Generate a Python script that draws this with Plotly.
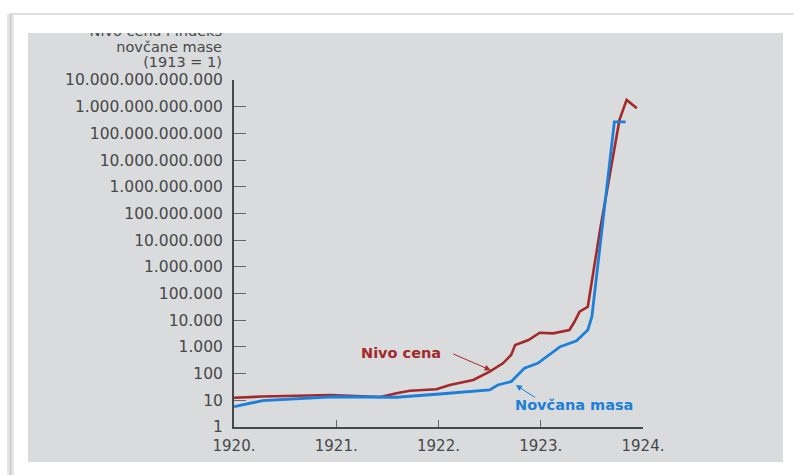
import plotly.graph_objects as go

# Germany 1920-1924: price level and money supply index (1913 = 1)
price_years = [1920.00, 1920.28, 1920.94, 1921.28, 1921.43, 1921.59, 1921.72, 1921.98,
               1922.11, 1922.34, 1922.50, 1922.63, 1922.71, 1922.75, 1922.88, 1922.99,
               1923.12, 1923.28, 1923.33, 1923.38, 1923.46, 1923.58, 1923.77, 1923.84,
               1923.94]
price_level = [12.5, 13.8, 15.8, 14.5, 13.3, 18.3, 22.9, 25.8,
               37.5, 57.6, 118, 243, 497, 1180, 1810, 3400,
               3220, 4290, 8750, 20800, 32000, 2.4e7, 3.2e11, 1.8e12,
               8.7e11]

money_years = [1920.00, 1920.28, 1920.97, 1921.43, 1921.59, 1922.01, 1922.50, 1922.58,
               1922.71, 1922.84, 1922.97, 1923.19, 1923.35, 1923.46, 1923.50, 1923.72,
               1923.83]
money_supply = [5.8, 9.7, 13.6, 13.6, 13.0, 17.2, 24.4, 37.5,
                50, 158, 243, 1020, 1700, 4300, 13500, 2.7e11,
                2.7e11]

year_ticks = [1920, 1921, 1922, 1923, 1924]
year_labels = ["1920.", "1921.", "1922.", "1923.", "1924."]

value_ticks = [10 ** k for k in range(14)]
value_labels = ["1", "10", "100", "1.000", "10.000", "100.000", "1.000.000",
                "10.000.000", "100.000.000", "1.000.000.000", "10.000.000.000",
                "100.000.000.000", "1.000.000.000.000", "10.000.000.000.000"]

axis_title_lines = ["Nivo cena i indeks", "novčane mase", "(1913 = 1)"]

W, H = 794, 475
RED = "#a3292b"
BLUE = "#1c7fd9"
INK = "#474849"
PANEL = "#d9dbdc"
FONT = "DejaVu Sans"


def fx(p):
    return p / W


def fy(p):
    return 1 - p / H


fig = go.Figure()

fig.add_trace(go.Scatter(
    x=price_years, y=price_level, mode="lines",
    line=dict(color=RED, width=2.6), name="Nivo cena", showlegend=False,
))
fig.add_trace(go.Scatter(
    x=money_years, y=money_supply, mode="lines",
    line=dict(color=BLUE, width=2.8), name="Novčana masa", showlegend=False,
))

# axis caption on a full-panel overlay so the top line is cut at the panel edge
fig.add_trace(go.Scatter(
    x=[222, 222, 222], y=[32, 48, 63],
    text=axis_title_lines, mode="text", textposition="middle left",
    textfont=dict(family=FONT, size=14.5, color=INK),
    xaxis="x2", yaxis="y2", cliponaxis=True, showlegend=False, hoverinfo="skip",
))

fig.update_layout(
    template="none",
    width=W, height=H,
    margin=dict(l=0, r=0, t=0, b=0, pad=0, autoexpand=False),
    paper_bgcolor="white",
    plot_bgcolor="rgba(0,0,0,0)",
    font=dict(family=FONT, color=INK),
    showlegend=False,
    xaxis=dict(
        domain=[fx(234), fx(643)], range=[1920, 1924],
        tickvals=year_ticks, ticktext=year_labels,
        ticks="inside", ticklen=7, tickwidth=1.3, tickcolor="#666",
        showline=True, linecolor=INK, linewidth=2,
        showgrid=False, zeroline=False, automargin=False,
        tickfont=dict(family=FONT, size=15, color=INK),
        ticklabelstandoff=4,
    ),
    yaxis=dict(
        domain=[fy(427), fy(80)], type="log", range=[0, 13],
        tickvals=value_ticks, ticktext=value_labels,
        ticks="inside", ticklen=12, tickwidth=1.3, tickcolor="#666",
        showline=True, linecolor=INK, linewidth=2,
        showgrid=False, zeroline=False, automargin=False,
        tickfont=dict(family=FONT, size=15.5, color=INK),
        ticklabelstandoff=6,
    ),
    xaxis2=dict(domain=[fx(28), fx(783)], range=[28, 783], visible=False,
                anchor="y2", automargin=False),
    yaxis2=dict(domain=[fy(462), fy(33)], range=[462, 33], visible=False,
                anchor="x2", automargin=False),
    shapes=[
        # scanned panel
        dict(type="rect", xref="paper", yref="paper", layer="below",
             x0=fx(28), x1=fx(783), y0=fy(462), y1=fy(33),
             fillcolor=PANEL, line=dict(width=0)),
        # page edge with soft shadow
        dict(type="rect", xref="paper", yref="paper", layer="below",
             x0=fx(7), x1=fx(14), y0=fy(H), y1=fy(14),
             fillcolor="#e6e6e6", line=dict(width=0)),
        dict(type="line", xref="paper", yref="paper", layer="below",
             x0=fx(10.5), x1=fx(10.5), y0=fy(H), y1=fy(14),
             line=dict(color="#cfcfcf", width=2)),
        dict(type="line", xref="paper", yref="paper", layer="below",
             x0=fx(9), x1=fx(W), y0=fy(14), y1=fy(14),
             line=dict(color="#d6d6d6", width=1.5)),
    ],
    annotations=[
        dict(text="<b>Nivo cena</b>", x=1922.04, y=2.77, xref="x", yref="y",
             xanchor="right", yanchor="middle", showarrow=False,
             font=dict(family=FONT, size=14.5, color=RED)),
        dict(text="<b>Novčana masa</b>", x=1922.73, y=0.82, xref="x", yref="y",
             xanchor="left", yanchor="middle", showarrow=False,
             font=dict(family=FONT, size=14.5, color=BLUE)),
        dict(text="", x=1922.51, y=2.13, ax=1922.13, ay=2.76,
             xref="x", yref="y", axref="x", ayref="y",
             showarrow=True, arrowhead=2, arrowsize=1.2, arrowwidth=1,
             arrowcolor=RED),
        dict(text="", x=1922.757, y=1.57, ax=1922.96, ay=1.07,
             xref="x", yref="y", axref="x", ayref="y",
             showarrow=True, arrowhead=2, arrowsize=1.2, arrowwidth=1,
             arrowcolor=BLUE),
    ],
)

fig.write_html("out.html")
